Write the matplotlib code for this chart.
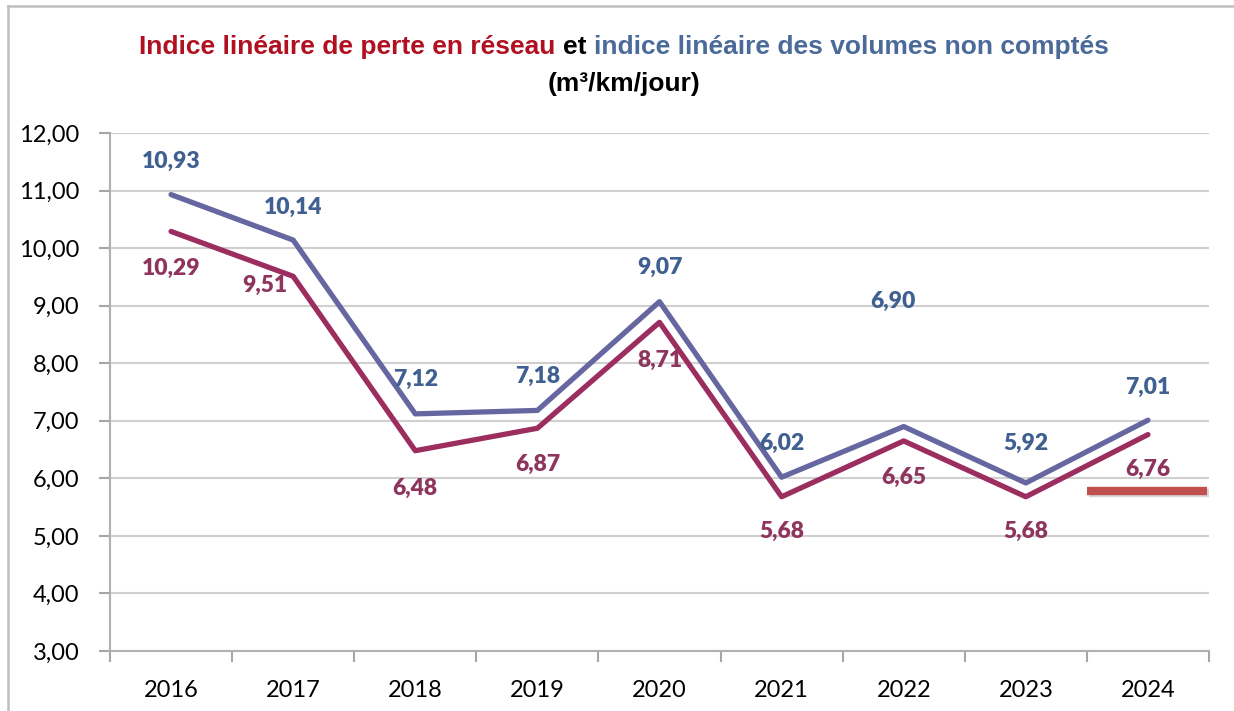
import matplotlib
matplotlib.use("Agg")
import matplotlib.pyplot as plt
from matplotlib.lines import Line2D

years = ["2016", "2017", "2018", "2019", "2020", "2021", "2022", "2023", "2024"]
ilvnc = [10.93, 10.14, 7.12, 7.18, 9.07, 6.02, 6.90, 5.92, 7.01]   # indice volumes non comptés
ilp = [10.29, 9.51, 6.48, 6.87, 8.71, 5.68, 6.65, 5.68, 6.76]      # indice perte en réseau
yticks = [3, 4, 5, 6, 7, 8, 9, 10, 11, 12]

# label offsets in pixels
blue_off = [(0, 33), (0, 33), (0, 34), (0, 34), (0, 34), (0, 34), (-11, 125), (0, 40), (0, 33)]
red_off = [(0, -37), (-28, -9), (0, -38), (0, -36), (0, -38), (0, -35), (0, -36), (0, -35), (0, -35)]

C_BLUE_LINE = "#6667A0"
C_RED_LINE = "#9B2D5F"
C_BLUE_TXT = "#3F6090"
C_RED_TXT = "#8E355E"

plt.rcParams['font.family'] = ['Lato', 'DejaVu Sans']

fig = plt.figure(figsize=(12.34, 7.11), dpi=100)
ax = fig.add_axes([110/1234, 1-651/711, 1099/1234, 518/711])

x = list(range(len(years)))
ax.plot(x, ilvnc, color=C_BLUE_LINE, lw=3.8, solid_capstyle='round', zorder=3)
ax.plot(x, ilp, color=C_RED_LINE, lw=3.8, solid_capstyle='round', zorder=3)

for i, v in enumerate(ilvnc):
    ax.annotate(f"{v:.2f}".replace(".", ","), (i, v), xytext=blue_off[i], textcoords='offset pixels',
                ha='center', va='center', color=C_BLUE_TXT, fontsize=16.5, fontweight='heavy', zorder=4)
for i, v in enumerate(ilp):
    ax.annotate(f"{v:.2f}".replace(".", ","), (i, v), xytext=red_off[i], textcoords='offset pixels',
                ha='center', va='center', color=C_RED_TXT, fontsize=16.5, fontweight='heavy', zorder=4)

# decorative red bar near 2024
bar_y = 5.78
ax.plot([7.52, 8.5], [bar_y - 0.04, bar_y - 0.04], color="#BBBBBB", lw=6, solid_capstyle='butt', zorder=2, alpha=0.6)
ax.plot([7.5, 8.48], [bar_y, bar_y], color="#C0504D", lw=6, solid_capstyle='butt', zorder=3)

ax.set_xlim(-0.5, 8.5)
ax.set_ylim(3, 12)
ax.set_yticks(yticks)
ax.set_yticklabels([f"{t:.2f}".replace(".", ",") for t in yticks], fontsize=17)
ax.set_xticks(x)
ax.set_xticklabels(years, fontsize=17)
ax.set_xticks([i - 0.5 for i in range(len(years) + 1)], minor=True)
ax.tick_params(axis='x', which='major', length=0, pad=21)
ax.tick_params(axis='x', which='minor', length=8, width=1.5, color="#A6A6A6", direction='out')
ax.tick_params(axis='y', length=8, width=1.5, color="#A6A6A6", pad=14)
ax.grid(axis='y', color="#D0D0D0", lw=1.5, zorder=0)
ax.set_axisbelow(True)
for s in ['top', 'right']:
    ax.spines[s].set_visible(False)
for s in ['left', 'bottom']:
    ax.spines[s].set_color("#B0B0B0")
    ax.spines[s].set_linewidth(1.5)

# title
tfam = ['Liberation Sans Narrow', 'Liberation Sans', 'DejaVu Sans']
parts = [("Indice linéaire de perte en réseau ", "#B01020"), ("et ", "black"),
         ("indice linéaire des volumes non comptés", "#4A6A9A")]
r = fig.canvas.get_renderer()
texts = []
for s, c in parts:
    t = fig.text(0, 1-47/711, s, color=c, fontsize=19, fontweight='bold', family=tfam, va='center', ha='left')
    texts.append(t)
widths = [t.get_window_extent(r).width for t in texts]
total = sum(widths)
xpos = 624 - total/2
for t, w in zip(texts, widths):
    t.set_x(xpos/1234)
    xpos += w
fig.text(624/1234, 1-84/711, "(m³/km/jour)", color="black", fontsize=19, fontweight='bold',
         family=tfam, va='center', ha='center')

# outer frame lines
fig.add_artist(Line2D([8/1234, 8/1234], [0, 1-6/711], color="#BFBFBF", lw=1.8))
fig.add_artist(Line2D([8/1234, 1], [1-6/711, 1-6/711], color="#BFBFBF", lw=1.8))

fig.savefig("out.png", dpi=100)
